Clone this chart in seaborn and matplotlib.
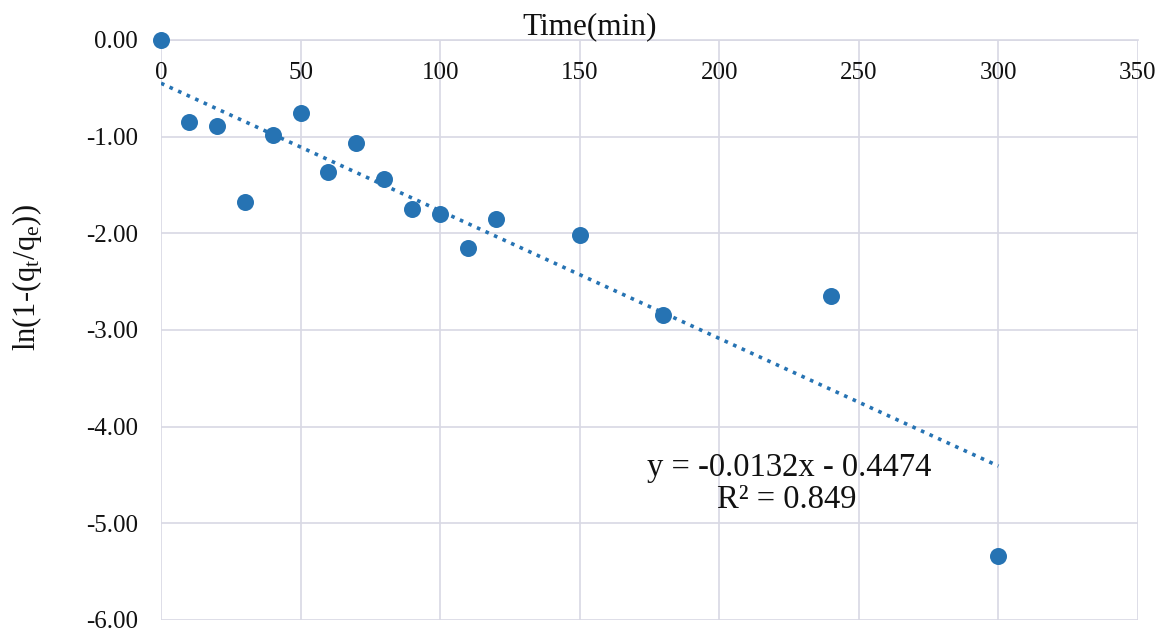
import matplotlib
matplotlib.use("Agg")
import matplotlib.pyplot as plt
import seaborn as sns
import numpy as np
import pandas as pd

time_min = [0, 10, 20, 30, 40, 50, 60, 70, 80, 90, 100, 110, 120, 150, 180, 240, 300]
ln_val = [0.0, -0.85, -0.89, -1.68, -0.98, -0.755, -1.365, -1.065, -1.44, -1.75, -1.80,
          -2.15, -1.85, -2.02, -2.84, -2.65, -5.34]
x_ticks = [0, 50, 100, 150, 200, 250, 300, 350]
y_ticks = [0, -1, -2, -3, -4, -5, -6]
slope, intercept, r2 = -0.0132, -0.4474, 0.849

df = pd.DataFrame({"t": time_min, "v": ln_val})

sns.set_theme(style="white")
plt.rcParams['font.family'] = ['Liberation Serif', 'DejaVu Serif']
plt.rcParams['mathtext.fontset'] = 'custom'
plt.rcParams['mathtext.rm'] = 'Liberation Serif'
plt.rcParams['mathtext.it'] = 'Liberation Serif:italic'

fig = plt.figure(figsize=(11.61, 6.33), dpi=100)
ax = fig.add_axes([161/1161, 1-620/633, (1138-161)/1161, (620-40)/633])

color = "#2673b3"
fit_x = np.array([0, 300])
line_df = pd.DataFrame({"t": fit_x, "v": slope*fit_x + intercept})
sns.lineplot(data=line_df, x="t", y="v", ax=ax, color=color, linestyle=(0, (1, 1.6)),
             linewidth=2.6, zorder=3)
sns.scatterplot(data=df, x="t", y="v", ax=ax, color=color, s=150, edgecolor=color,
                linewidth=0, zorder=4, clip_on=False)

ax.set_xlim(0, 350)
ax.set_ylim(-6, 0)
ax.grid(True, color="#d8d8e4", linewidth=1.2)
ax.set_axisbelow(True)
for s in ["top", "right", "left"]:
    ax.spines[s].set_visible(False)
ax.spines["bottom"].set_position(("data", 0))
ax.spines["bottom"].set_color("#d8d8e4")
ax.spines["bottom"].set_linewidth(1.2)
ax.set_xticks(x_ticks)
ax.set_yticks(y_ticks)
ax.set_xticklabels([str(v) for v in x_ticks])
ax.set_yticklabels([f"{v:.2f}" for v in y_ticks])
ax.tick_params(axis="x", length=0, pad=16, colors="#111111", labelsize=18)
ax.tick_params(axis="y", length=0, pad=16.5, colors="#111111", labelsize=18)
ax.set_xlabel("")
ax.set_ylabel("")
fig.text(27/1161, 1-278/633, r"ln(1-(q$_\mathrm{t}$/q$_\mathrm{e}$))", rotation=90,
         ha="center", va="center", fontsize=22, color="#111111")
fig.text(590/1161, 1-27/633, "Time(min)", ha="center", va="center", fontsize=22.5,
         color="#111111")

ax.text(225, -4.42, f"y = {slope}x - {abs(intercept)}", ha="center", va="center",
        fontsize=23.5, color="#111111")
ax.text(224, -4.76, f"R² = {r2}", ha="center", va="center", fontsize=23.5, color="#111111")

fig.savefig("out.png", dpi=100, facecolor="white")
